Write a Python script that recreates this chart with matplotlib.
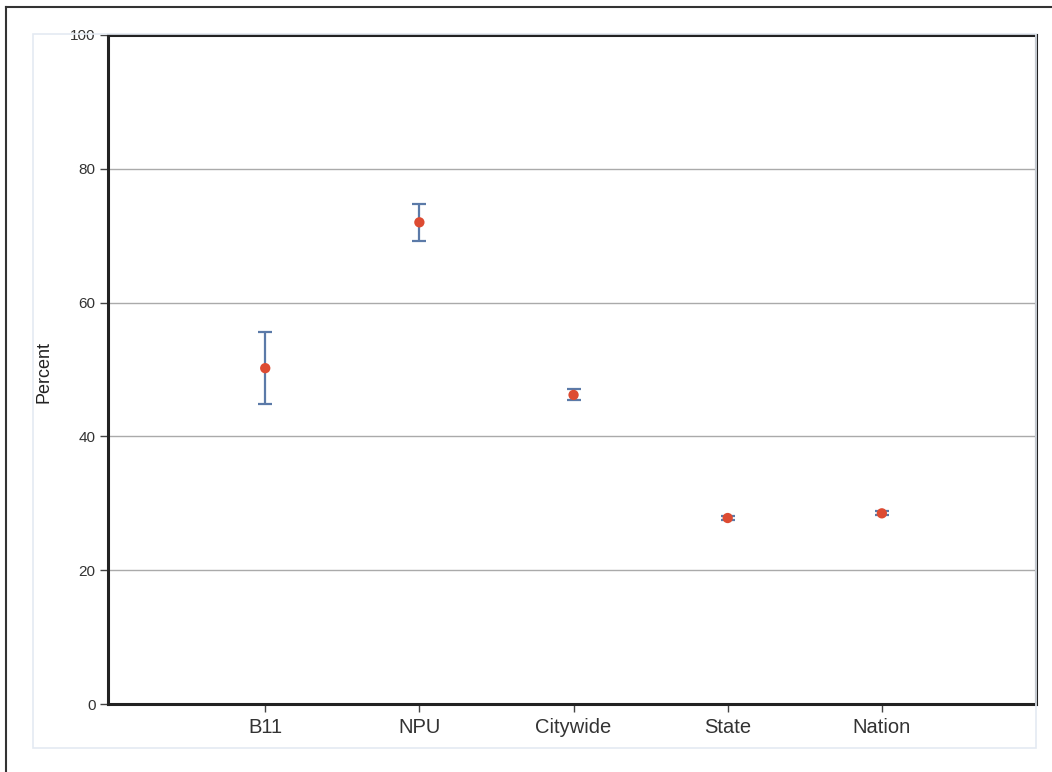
import matplotlib
matplotlib.use("Agg")
import matplotlib.pyplot as plt
from matplotlib.patches import Rectangle
from matplotlib.lines import Line2D

plt.rcParams['font.family'] = ['Liberation Sans', 'DejaVu Sans']

categories = ["B11", "NPU", "Citywide", "State", "Nation"]
values = [50.2, 72.0, 46.2, 27.8, 28.5]
lower = [44.8, 69.2, 45.5, 27.5, 28.2]
upper = [55.6, 74.8, 47.1, 28.1, 28.8]
yticks = [0, 20, 40, 60, 80, 100]

W, H = 1052, 772
fig = plt.figure(figsize=(W / 100, H / 100), dpi=100)

def fx(px):
    return px / W

def fy(py):
    return 1 - py / H

# outer border (top and left visible)
fig.add_artist(Line2D([fx(6), fx(1052)], [fy(7), fy(7)], color="#333333", lw=1.5))
fig.add_artist(Line2D([fx(6), fx(6)], [fy(7), fy(772)], color="#333333", lw=1.5))
# light inner box
fig.add_artist(Rectangle((fx(33), fy(748)), fx(1036 - 33), (748 - 34) / H,
                         fill=False, edgecolor="#e4eaf2", lw=1.2))

ax = fig.add_axes([fx(108), fy(704), fx(1036 - 108), (704 - 35) / H])
x = list(range(len(categories)))
yerr = [[v - l for v, l in zip(values, lower)], [u - v for u, v in zip(upper, values)]]
ax.errorbar(x, values, yerr=yerr, fmt="none", ecolor="#5b7aa8", elinewidth=1.6,
            capsize=5, capthick=1.6, zorder=3)
ax.scatter(x, values, s=55, color="#dd4b32", zorder=4, edgecolors="none")

ax.set_xlim(-1.02, 5.0)
ax.set_ylim(0, 100)
ax.set_yticks(yticks)
ax.set_xticks(x)
ax.set_xticklabels(categories)
ax.yaxis.grid(True, color="#aaaaaa", lw=1)
ax.set_axisbelow(True)
for s in ax.spines.values():
    s.set_color("#222222")
    s.set_linewidth(2.2)
ax.tick_params(axis="both", direction="out", length=6, width=1, color="#444444",
               labelcolor="#333333")
ax.tick_params(axis="x", labelsize=14.5, pad=4)
ax.tick_params(axis="y", labelsize=11, pad=3)
fig.text(fx(44), fy(372), "Percent", rotation=90, ha="center", va="center",
         fontsize=13, color="#222222")

fig.savefig("out.png", dpi=100)
